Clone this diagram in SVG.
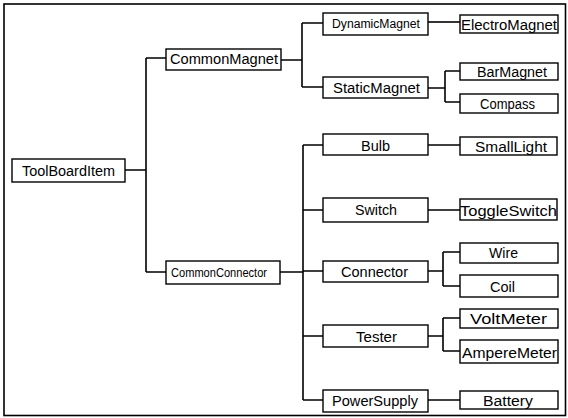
<svg xmlns="http://www.w3.org/2000/svg" width="568" height="418" viewBox="0 0 568 418">
<style>
.box{fill:#fff;stroke:#000;stroke-width:1.4}
.t{font-family:"Liberation Sans",Arial,sans-serif;font-size:14px;fill:#000}
.s{font-size:12px}
.c{fill:none;stroke:#000;stroke-width:1.6}
</style>
<rect x="0" y="0" width="568" height="418" fill="#fff"/>
<rect x="4" y="4" width="561.5" height="411.5" fill="none" stroke="#000" stroke-width="1.6"/>
<g id="connectors">
<path class="c" d="M125 170H146M146 58V272M146 58H166M146 272H166"/>
<path class="c" d="M281 60H302M302 23V87M302 23H323M302 87H323"/>
<path class="c" d="M428 22H460"/>
<path class="c" d="M428 88H445M445 71V102M445 71H460M445 102H460"/>
<path class="c" d="M280 272H303M303 145V400M303 145H323M303 210H323M303 271H323M303 336H323M303 400H323"/>
<path class="c" d="M428 145H460M428 210H460M428 400H460"/>
<path class="c" d="M428 271H443M443 252V286M443 252H460M443 286H460"/>
<path class="c" d="M428 336H443M443 318V351M443 318H460M443 351H460"/>
</g>
<g id="ToolBoardItem"><rect class="box" x="12" y="159" width="113" height="23"/><text class="t" x="22" y="176" textLength="93" lengthAdjust="spacingAndGlyphs">ToolBoardItem</text></g>
<g id="CommonMagnet"><rect class="box" x="166" y="49" width="115" height="21"/><text class="t" x="170" y="64" textLength="108" lengthAdjust="spacingAndGlyphs">CommonMagnet</text></g>
<g id="CommonConnector"><rect class="box" x="166" y="261" width="114" height="23"/><text class="t s" x="171" y="277" textLength="96" lengthAdjust="spacingAndGlyphs">CommonConnector</text></g>
<g id="DynamicMagnet"><rect class="box" x="323" y="13" width="105" height="22"/><text class="t s" x="332" y="28" textLength="88" lengthAdjust="spacingAndGlyphs">DynamicMagnet</text></g>
<g id="ElectroMagnet"><rect class="box" x="460" y="15" width="98" height="18"/><text class="t" x="461" y="30" textLength="96" lengthAdjust="spacingAndGlyphs">ElectroMagnet</text></g>
<g id="StaticMagnet"><rect class="box" x="323" y="77" width="105" height="21"/><text class="t" x="333" y="93" textLength="87" lengthAdjust="spacingAndGlyphs">StaticMagnet</text></g>
<g id="BarMagnet"><rect class="box" x="460" y="63" width="98" height="17"/><text class="t" x="477" y="77" textLength="70" lengthAdjust="spacingAndGlyphs">BarMagnet</text></g>
<g id="Compass"><rect class="box" x="460" y="94" width="98" height="19"/><text class="t" x="480" y="109" textLength="55" lengthAdjust="spacingAndGlyphs">Compass</text></g>
<g id="Bulb"><rect class="box" x="323" y="134" width="105" height="21"/><text class="t" x="361" y="151" textLength="29" lengthAdjust="spacingAndGlyphs">Bulb</text></g>
<g id="SmallLight"><rect class="box" x="460" y="137" width="97" height="18"/><text class="t" x="475" y="152" textLength="72" lengthAdjust="spacingAndGlyphs">SmallLight</text></g>
<g id="Switch"><rect class="box" x="323" y="198" width="105" height="24"/><text class="t" x="355" y="215" textLength="42" lengthAdjust="spacingAndGlyphs">Switch</text></g>
<g id="ToggleSwitch"><rect class="box" x="460" y="199" width="97" height="21"/><text class="t" x="460" y="216" textLength="97" lengthAdjust="spacingAndGlyphs">ToggleSwitch</text></g>
<g id="Connector"><rect class="box" x="323" y="261" width="105" height="21"/><text class="t" x="341" y="277" textLength="67" lengthAdjust="spacingAndGlyphs">Connector</text></g>
<g id="Wire"><rect class="box" x="460" y="243" width="98" height="20"/><text class="t" x="489" y="258" textLength="29" lengthAdjust="spacingAndGlyphs">Wire</text></g>
<g id="Coil"><rect class="box" x="460" y="275" width="98" height="22"/><text class="t" x="490" y="292" textLength="25" lengthAdjust="spacingAndGlyphs">Coil</text></g>
<g id="Tester"><rect class="box" x="323" y="325" width="105" height="22"/><text class="t" x="356" y="342" textLength="41" lengthAdjust="spacingAndGlyphs">Tester</text></g>
<g id="VoltMeter"><rect class="box" x="460" y="309" width="98" height="19"/><text class="t" x="470" y="324" textLength="77" lengthAdjust="spacingAndGlyphs">VoltMeter</text></g>
<g id="AmpereMeter"><rect class="box" x="460" y="340" width="98" height="23"/><text class="t" x="462" y="358" textLength="95" lengthAdjust="spacingAndGlyphs">AmpereMeter</text></g>
<g id="PowerSupply"><rect class="box" x="323" y="390" width="105" height="22"/><text class="t" x="332" y="406" textLength="86" lengthAdjust="spacingAndGlyphs">PowerSupply</text></g>
<g id="Battery"><rect class="box" x="460" y="391" width="98" height="18"/><text class="t" x="483" y="406" textLength="50" lengthAdjust="spacingAndGlyphs">Battery</text></g>
</svg>
